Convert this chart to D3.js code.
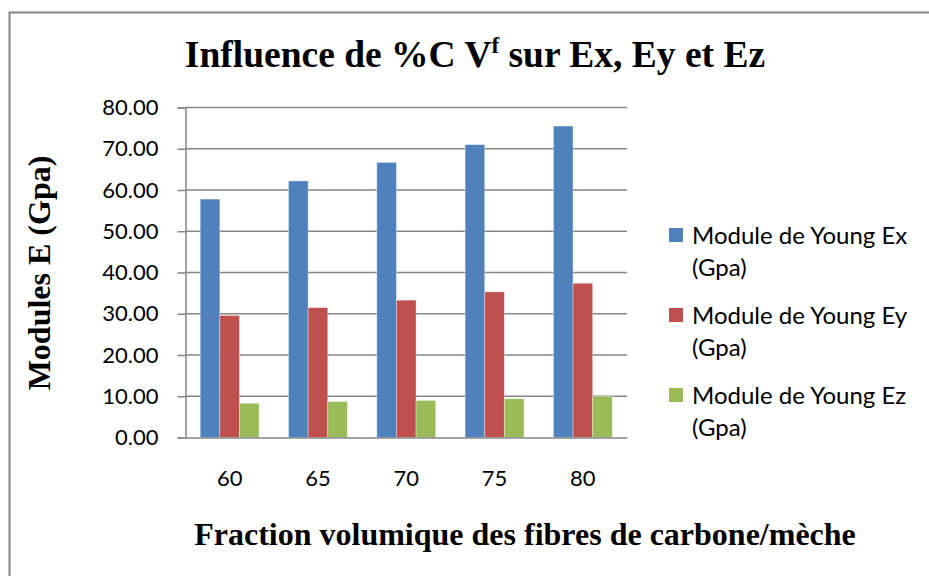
<!DOCTYPE html>
<html>
<head>
<meta charset="utf-8">
<script src="https://cdn.jsdelivr.net/npm/d3@7"></script>
<style>
  html, body { margin: 0; padding: 0; background: #fff; }
  svg { display: block; }
</style>
</head>
<body>
<svg id="chart" width="929" height="576"></svg>
<script>
// Fibre volume fraction (%) per group
const categories = ["60", "65", "70", "75", "80"];
// Young's moduli (GPa)
const ex = [57.8, 62.2, 66.7, 71.0, 75.5];
const ey = [29.6, 31.5, 33.3, 35.3, 37.4];
const ez = [8.3, 8.7, 9.0, 9.4, 10.0];
const seriesNames = ["Module de Young Ex", "Module de Young Ey", "Module de Young Ez"];
const seriesUnit = "(Gpa)";
const seriesColors = ["#4F81BD", "#C0504D", "#9BBB59"];
const yTicks = [0, 10, 20, 30, 40, 50, 60, 70, 80];

const series = [ex, ey, ez];
const svg = d3.select("#chart");
const W = 929, H = 576;

const plot = { left: 185.5, right: 627, top: 107.5, bottom: 437.5 };
const axisColor = "#868686";
const labelFont = "Lato, 'Open Sans', sans-serif";
const serifFont = "'Liberation Serif', 'Times New Roman', serif";

svg.append("rect").attr("width", W).attr("height", H).attr("fill", "#fff");

// outer chart frame (runs off the right and bottom edges)
svg.append("rect")
  .attr("x", 9.5).attr("y", 12.5)
  .attr("width", W + 20).attr("height", H + 20)
  .attr("fill", "none").attr("stroke", axisColor).attr("stroke-width", 2);

const x0 = d3.scaleBand().domain(categories).range([plot.left, plot.right]).paddingInner(0).paddingOuter(0);
// gap width of 150% of a bar: 3 bars + 1.5 bar gap per category
const barW = x0.bandwidth() / 4.5;
const y = d3.scaleLinear().domain([0, 80]).range([plot.bottom, plot.top]);

// horizontal gridlines
svg.append("g").selectAll("line").data(yTicks.slice(1)).join("line")
  .attr("x1", plot.left).attr("x2", plot.right)
  .attr("y1", d => y(d)).attr("y2", d => y(d))
  .attr("stroke", axisColor).attr("stroke-width", 1.5);

// y axis with outer tick marks
const yAxis = d3.axisLeft(y).tickValues(yTicks).tickSize(8).tickPadding(19)
  .tickFormat(d3.format(".2f"));
const gy = svg.append("g").attr("transform", `translate(${plot.left},0)`).call(yAxis);
gy.select(".domain").attr("stroke", axisColor).attr("stroke-width", 1.5);
gy.selectAll(".tick line").attr("stroke", axisColor).attr("stroke-width", 1.5);
gy.selectAll(".tick text")
  .attr("font-family", labelFont).attr("font-size", 22).attr("fill", "#000");

// bars
const groups = svg.append("g").selectAll("g").data(categories).join("g")
  .attr("transform", d => `translate(${x0(d) + barW * 0.75},0)`);
groups.selectAll("rect")
  .data((c, i) => series.map((s, k) => ({ k, v: s[i] })))
  .join("rect")
  .attr("x", d => d.k * barW)
  .attr("y", d => y(d.v))
  .attr("width", barW)
  .attr("height", d => y(0) - y(d.v))
  .attr("fill", d => seriesColors[d.k])
  .attr("stroke", "rgba(255,255,255,0.45)")
  .attr("stroke-width", 0.8);

// x axis baseline and category labels
const xAxis = d3.axisBottom(x0).tickSize(0).tickPadding(33);
const gx = svg.append("g").attr("transform", `translate(0,${plot.bottom})`).call(xAxis);
gx.select(".domain").attr("stroke", axisColor).attr("stroke-width", 1.5);
gx.selectAll(".tick text")
  .attr("font-family", labelFont).attr("font-size", 22).attr("fill", "#000");

// title
const title = svg.append("text")
  .attr("x", 475).attr("y", 67)
  .attr("text-anchor", "middle")
  .attr("font-family", serifFont).attr("font-weight", "bold").attr("font-size", 37.5)
  .attr("fill", "#000");
title.append("tspan").text("Influence de %C V");
title.append("tspan").attr("font-size", 23).attr("dy", -14).text("f");
title.append("tspan").attr("dy", 14).text(" sur Ex, Ey et Ez");

// y axis title
svg.append("text")
  .attr("transform", "translate(50,273) rotate(-90)")
  .attr("text-anchor", "middle")
  .attr("font-family", serifFont).attr("font-weight", "bold").attr("font-size", 32)
  .attr("fill", "#000")
  .text("Modules E (Gpa)");

// x axis title
svg.append("text")
  .attr("x", 525).attr("y", 545)
  .attr("text-anchor", "middle")
  .attr("font-family", serifFont).attr("font-weight", "bold").attr("font-size", 32)
  .attr("fill", "#000")
  .text("Fraction volumique des fibres de carbone/mèche");

// legend
const legend = svg.append("g").selectAll("g").data(seriesNames).join("g")
  .attr("transform", (d, i) => `translate(669,${228 + i * 80})`);
legend.append("rect").attr("width", 14).attr("height", 14)
  .attr("fill", (d, i) => seriesColors[i]);
const lt = legend.append("text")
  .attr("font-family", labelFont).attr("font-size", 24).attr("fill", "#000");
lt.append("tspan").attr("x", 23).attr("y", 16).text(d => d);
lt.append("tspan").attr("x", 23).attr("y", 48).text(seriesUnit);
</script>
</body>
</html>
